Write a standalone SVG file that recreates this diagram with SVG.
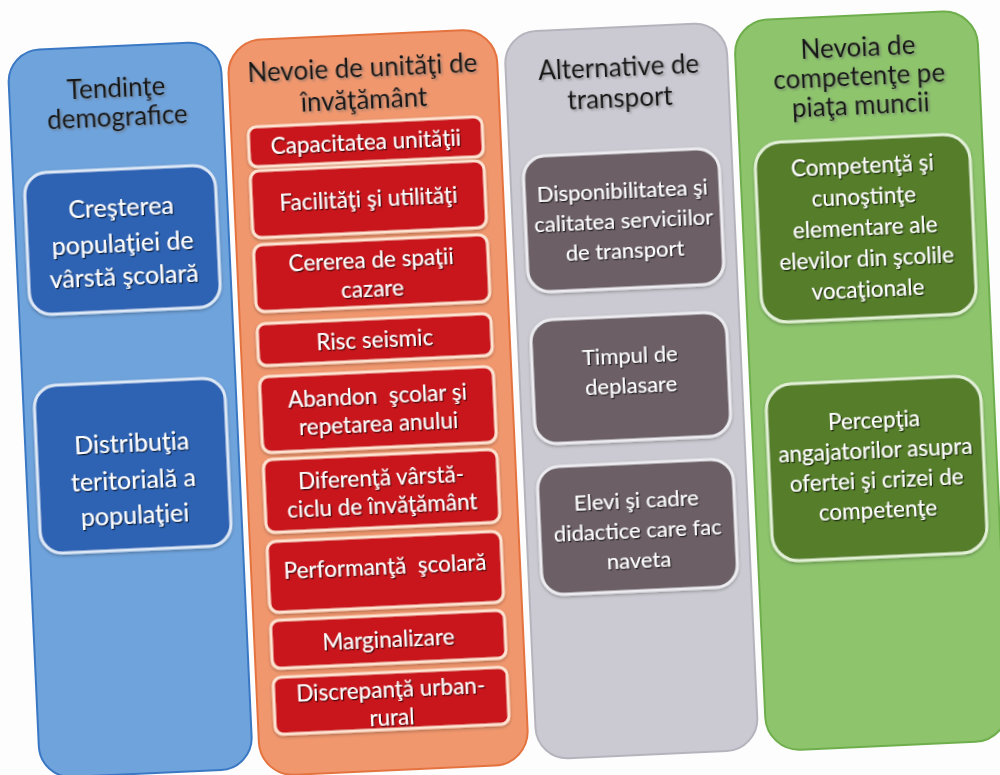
<svg xmlns="http://www.w3.org/2000/svg" width="1000" height="775" viewBox="0 0 1000 775">
  <defs>
    <filter id="ts" x="-10%" y="-20%" width="120%" height="140%">
      <feDropShadow dx="1.2" dy="1.3" stdDeviation="0.7" flood-color="#000" flood-opacity="0.75"/>
    </filter>
    <filter id="hs" x="-10%" y="-20%" width="120%" height="140%">
      <feDropShadow dx="1.6" dy="1.6" stdDeviation="0.9" flood-color="#666" flood-opacity="0.6"/>
    </filter>
    <filter id="bs" x="-10%" y="-10%" width="120%" height="130%">
      <feDropShadow dx="0" dy="1.5" stdDeviation="1.5" flood-color="#000" flood-opacity="0.3"/>
    </filter>
  </defs>
  <style>
    .col { stroke-width: 2; }
    .blue { fill: #6fa3dc; stroke: #3a78c4; }
    .orange { fill: #f0976e; stroke: #e4733f; }
    .gray { fill: #cbcad2; stroke: #b5b4bd; }
    .green { fill: #8dc46c; stroke: #6fae4c; }
    .bbox { fill: #2f64b4; stroke: #dde8f6; stroke-width: 3; filter: url(#bs); }
    .rbox { fill: #c9171b; stroke: #fde3d2; stroke-width: 3; filter: url(#bs); }
    .gbox { fill: #6c6166; stroke: #ececf0; stroke-width: 3; filter: url(#bs); }
    .vbox { fill: #557d2b; stroke: #e2f0d6; stroke-width: 3; filter: url(#bs); }
    text { font-family: Lato, "Open Sans", "Liberation Sans", sans-serif; text-anchor: middle; }
    .hd { fill: #151515; font-size: 26px; filter: url(#hs); }
    .wt { fill: #ffffff; filter: url(#ts); }
    .tb { font-size: 25px; }
    .to { font-size: 22.5px; }
    .tg { font-size: 22px; }
    .tv { font-size: 22.5px; }
  </style>
  <rect width="1000" height="775" fill="#fdfdfd"/>
  <g transform="rotate(-2.6 500 387)">
    <g id="col-demografice">
      <rect class="col blue" x="23" y="29" width="213" height="728" rx="32"/>
      <text class="hd" x="130"><tspan x="130" y="80">Tendinţe</tspan><tspan x="130" y="109">demografice</tspan></text>
    </g>
    <g id="node-crestere">
      <rect class="bbox" x="34" y="152" width="191" height="142" rx="22"/>
      <text class="wt tb"><tspan x="129.5" y="199">Creşterea</tspan><tspan x="129.5" y="235">populaţiei de</tspan><tspan x="129.5" y="268">vârstă şcolară</tspan></text>
    </g>
    <g id="node-distributie">
      <rect class="bbox" x="34" y="365" width="191" height="168" rx="22"/>
      <text class="wt tb"><tspan x="129.5" y="435">Distribuţia</tspan><tspan x="129.5" y="472">teritorială a</tspan><tspan x="129.5" y="507">populaţiei</tspan></text>
    </g>

    <g id="col-unitati">
      <rect class="col orange" x="243" y="29" width="269" height="736" rx="34"/>
      <text class="hd"><tspan x="377" y="71">Nevoie de unităţi de</tspan><tspan x="377" y="103">învăţământ</tspan></text>
    </g>
    <g id="node-capacitate">
      <rect class="rbox" x="260" y="116" width="234" height="40" rx="8"/>
      <text class="wt to" x="377" y="144">Capacitatea unităţii</text>
    </g>
    <g id="node-facilitati">
      <rect class="rbox" x="260" y="160" width="234" height="67" rx="9"/>
      <text class="wt to" x="377" y="201">Facilităţi şi utilităţi</text>
    </g>
    <g id="node-cazare">
      <rect class="rbox" x="260" y="234" width="234" height="67" rx="9"/>
      <text class="wt to"><tspan x="377" y="262">Cererea de spaţii</tspan><tspan x="377" y="291">cazare</tspan></text>
    </g>
    <g id="node-risc">
      <rect class="rbox" x="260" y="313" width="234" height="42" rx="8"/>
      <text class="wt to" x="377" y="342">Risc seismic</text>
    </g>
    <g id="node-abandon">
      <rect class="rbox" x="260" y="366" width="234" height="76" rx="9"/>
      <text class="wt to"><tspan x="377" y="398">Abandon&#160; şcolar şi</tspan><tspan x="377" y="426">repetarea anului</tspan></text>
    </g>
    <g id="node-diferenta">
      <rect class="rbox" x="260" y="449" width="234" height="73" rx="9"/>
      <text class="wt to"><tspan x="377" y="480">Diferenţă vârstă-</tspan><tspan x="377" y="508">ciclu de învăţământ</tspan></text>
    </g>
    <g id="node-performanta">
      <rect class="rbox" x="260" y="531" width="234" height="71" rx="9"/>
      <text class="wt to" x="377" y="569">Performanţă&#160; şcolară</text>
    </g>
    <g id="node-marginalizare">
      <rect class="rbox" x="260" y="610" width="234" height="48" rx="8"/>
      <text class="wt to" x="377" y="642">Marginalizare</text>
    </g>
    <g id="node-discrepanta">
      <rect class="rbox" x="260" y="667" width="234" height="57" rx="8"/>
      <text class="wt to"><tspan x="377" y="692">Discrepanţă urban-</tspan><tspan x="377" y="720">rural</tspan></text>
    </g>

    <g id="col-transport">
      <rect class="col gray" x="520" y="33" width="222" height="728" rx="32"/>
      <text class="hd"><tspan x="633" y="82">Alternative de</tspan><tspan x="633" y="113">transport</tspan></text>
    </g>
    <g id="node-servicii">
      <rect class="gbox" x="533" y="158" width="196" height="136" rx="22"/>
      <text class="wt tg"><tspan x="631" y="204">Disponibilitatea şi</tspan><tspan x="631" y="234">calitatea serviciilor</tspan><tspan x="631" y="264">de transport</tspan></text>
    </g>
    <g id="node-timp">
      <rect class="gbox" x="533" y="322" width="196" height="124" rx="22"/>
      <text class="wt tg"><tspan x="631" y="369">Timpul de</tspan><tspan x="631" y="399">deplasare</tspan></text>
    </g>
    <g id="node-naveta">
      <rect class="gbox" x="533" y="469" width="196" height="128" rx="22"/>
      <text class="wt tg"><tspan x="631" y="514">Elevi şi cadre</tspan><tspan x="631" y="544">didactice care fac</tspan><tspan x="631" y="574">naveta</tspan></text>
    </g>

    <g id="col-competente">
      <rect class="col green" x="750" y="32" width="243" height="731" rx="34"/>
      <text class="hd"><tspan x="873" y="73">Nevoia de</tspan><tspan x="873" y="102">competenţe pe</tspan><tspan x="873" y="131">piaţa muncii</tspan></text>
    </g>
    <g id="node-competenta">
      <rect class="vbox" x="765" y="155" width="215" height="180" rx="26"/>
      <text class="wt tv"><tspan x="872" y="190">Competenţă şi</tspan><tspan x="872" y="221">cunoştinţe</tspan><tspan x="872" y="252">elementare ale</tspan><tspan x="872" y="283">elevilor din şcolile</tspan><tspan x="872" y="314">vocaţionale</tspan></text>
    </g>
    <g id="node-perceptia">
      <rect class="vbox" x="765" y="397" width="215" height="177" rx="26"/>
      <text class="wt tv"><tspan x="872" y="445">Percepţia</tspan><tspan x="872" y="475">angajatorilor asupra</tspan><tspan x="872" y="505">ofertei şi crizei de</tspan><tspan x="872" y="535">competenţe</tspan></text>
    </g>
    <g id="connectors"/>
  </g>
</svg>
